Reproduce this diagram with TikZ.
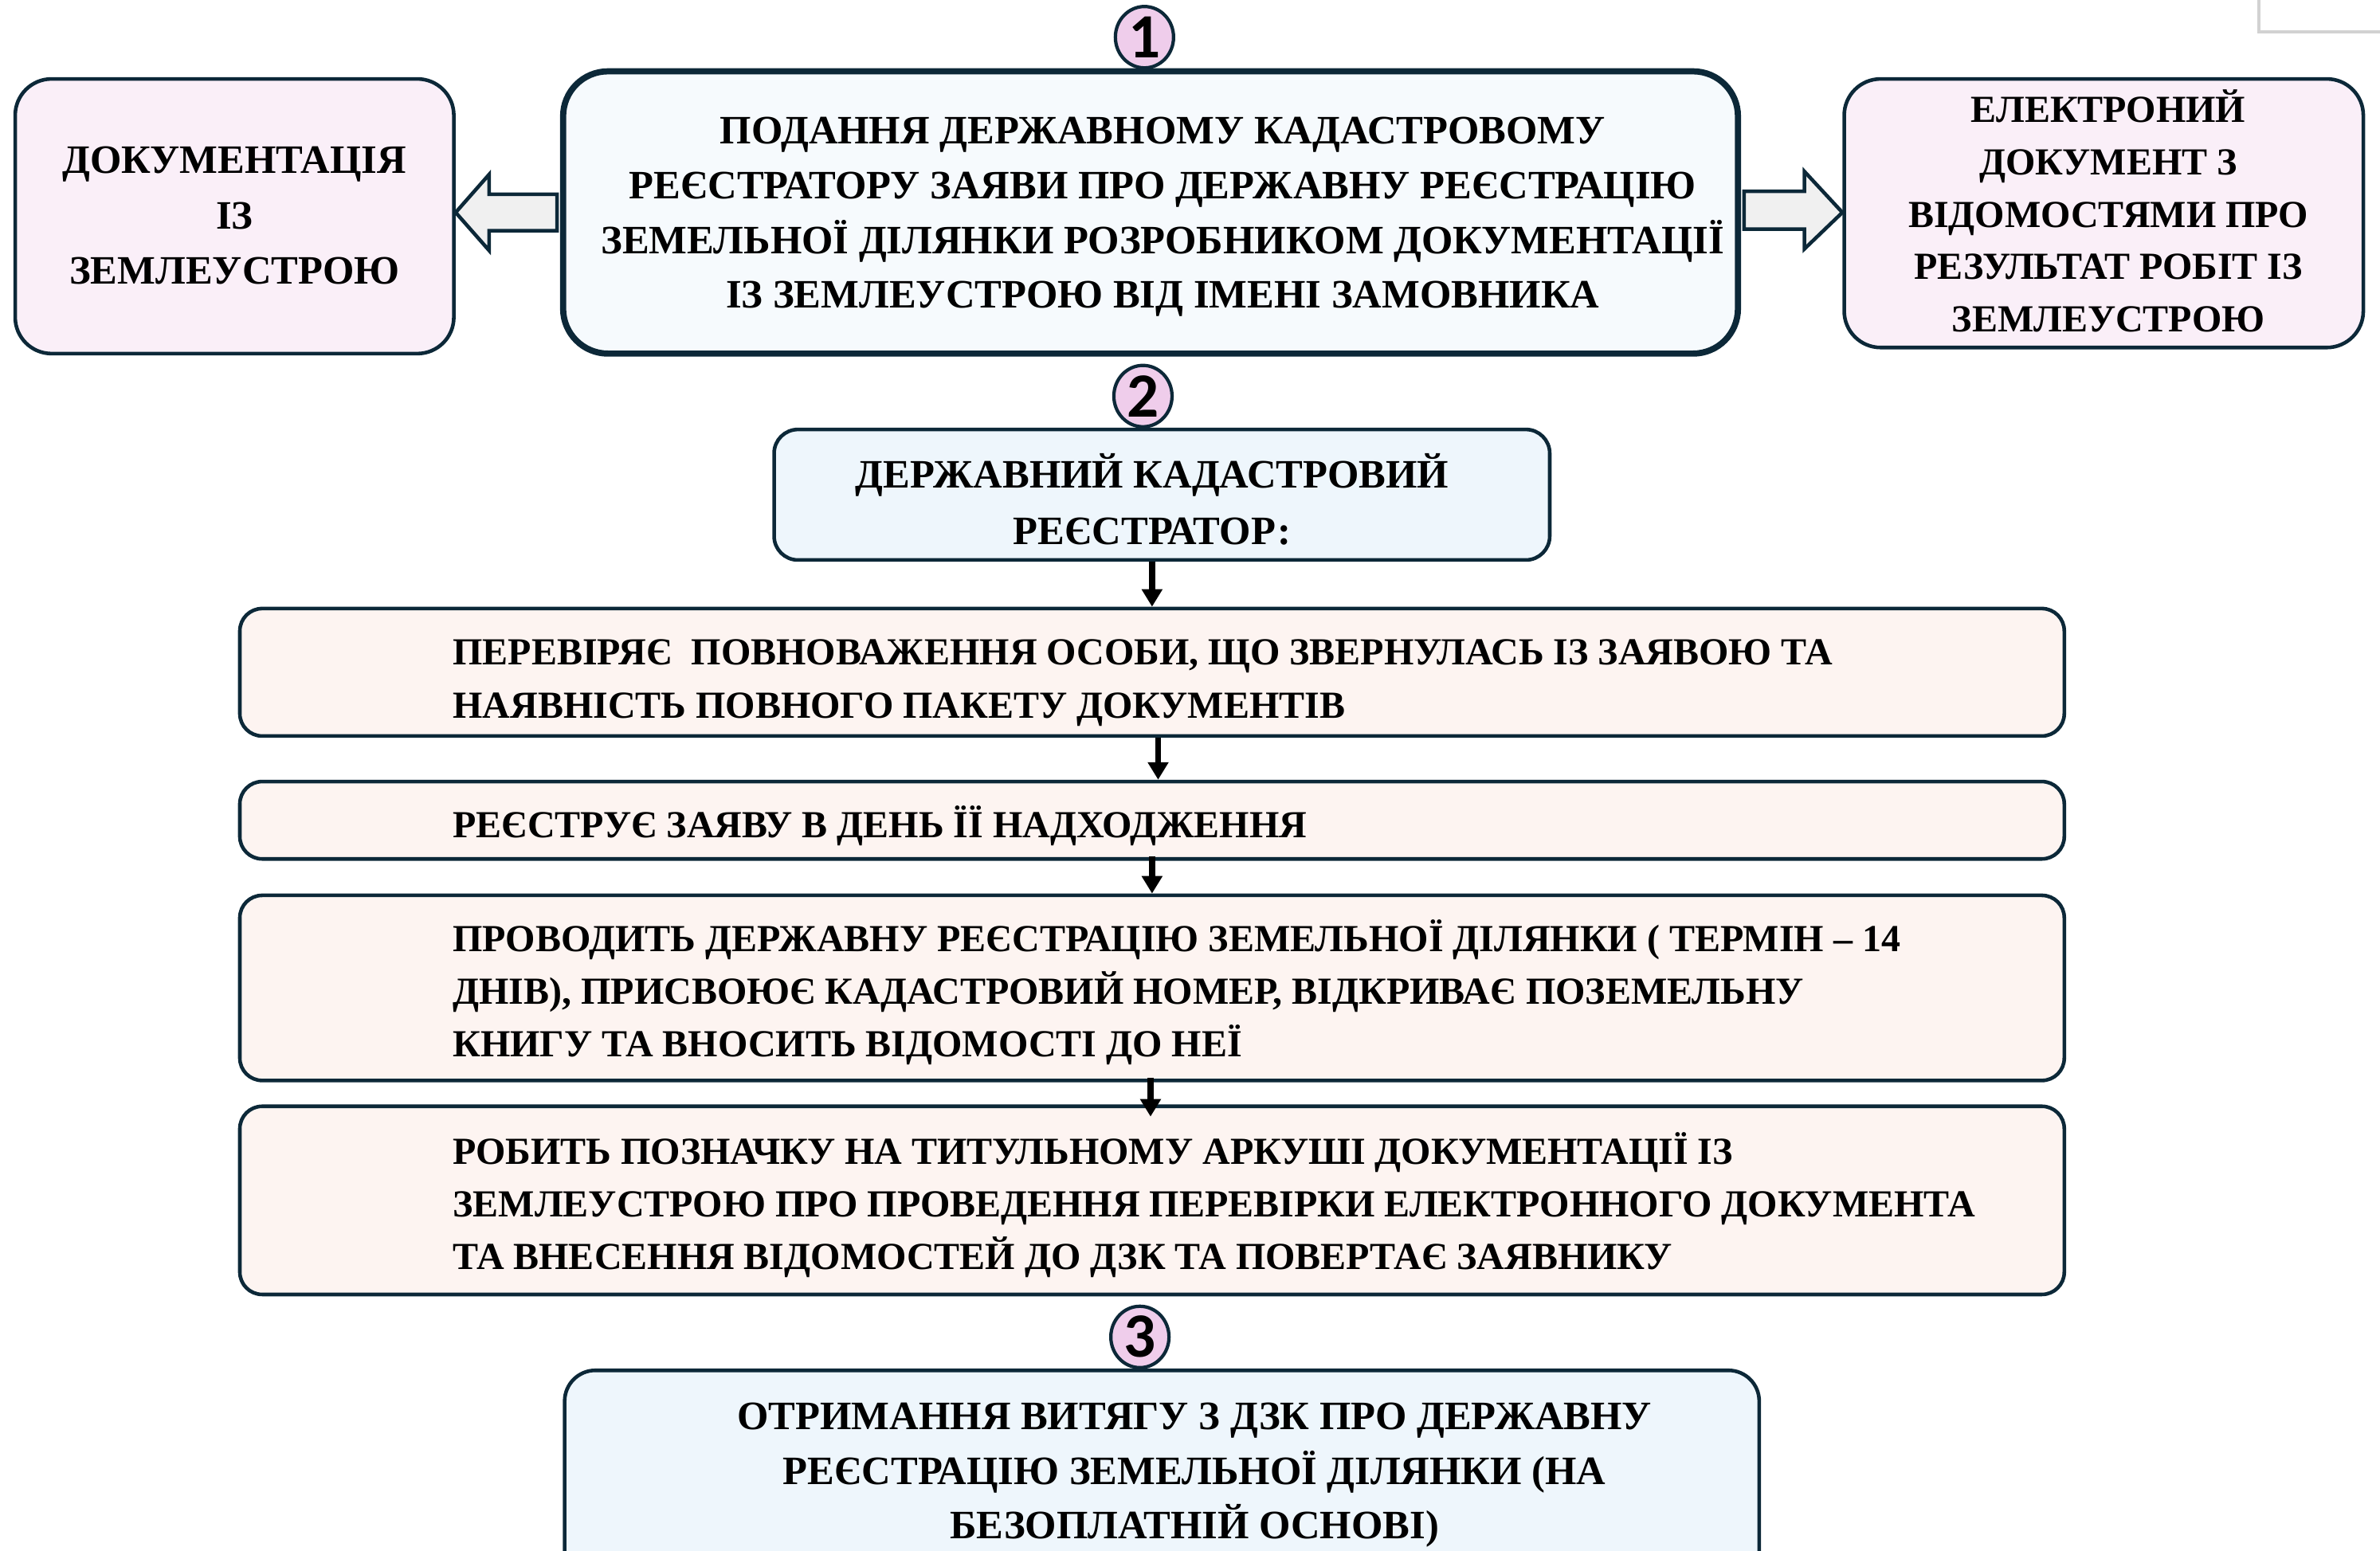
\documentclass[tikz,border=0pt]{standalone}
\usepackage{fontspec}
\setmainfont{Liberation Serif}
\newfontfamily\numfont{Carlito}
\usetikzlibrary{fit,calc,arrows.meta,shapes.geometric}
\definecolor{bordc}{RGB}{12,40,56}
\definecolor{pinkfill}{RGB}{250,239,248}
\definecolor{mainfill}{RGB}{246,250,253}
\definecolor{bluefill}{RGB}{238,246,252}
\definecolor{peachfill}{RGB}{253,244,241}
\definecolor{numpink}{RGB}{239,205,235}
\definecolor{arrgray}{RGB}{240,240,240}
\definecolor{cornergray}{RGB}{210,210,210}
\begin{document}
\begin{tikzpicture}[x=0.01905cm,y=-0.01905cm,
  boxbase/.style={draw=bordc, line width=1.3pt, inner sep=0pt},
  sidebox/.style={boxbase, fill=pinkfill, rounded corners=13pt},
  mainbox/.style={boxbase, fill=mainfill, line width=2.2pt, rounded corners=16pt},
  regbox/.style={boxbase, fill=bluefill, rounded corners=8.5pt},
  stepbox/.style={boxbase, fill=peachfill, rounded corners=8pt},
  resbox/.style={boxbase, fill=bluefill, rounded corners=11pt},
  ctext/.style={inner sep=0pt, align=center, font=\bfseries\fontsize{14.4}{19.5}\selectfont},
  steptext/.style={inner sep=0pt, anchor=west, align=left,
    font=\bfseries\fontsize{13.65}{18.8}\selectfont},
  numc/.style={ellipse, draw=bordc, line width=1.2pt, fill=numpink, minimum width=0.73cm,
    minimum height=0.77cm, inner sep=0pt, font=\numfont\bfseries\fontsize{22.5}{22.5}\selectfont},
  blk/.style={draw=bordc, fill=arrgray, line width=1.3pt, line join=miter},
  varr/.style={line width=2.1pt, -{Triangle[length=0.22cm,width=0.25cm]}}]
\useasboundingbox (0,0) rectangle (1568,1022);
\clip (0,0) rectangle (1568,1022);

% partial grey frame top right
\draw[cornergray, line width=1.2pt] (1488,-5) -- (1488,21) -- (1575,21);

% top row
\node[sidebox, fit={(10,52) (299,233)}] (L) {};
\node[ctext, font=\bfseries\fontsize{14.4}{19.8}\selectfont] (tL) at (154.5,142) {ДОКУМЕНТАЦІЯ\\ІЗ\\ЗЕМЛЕУСТРОЮ};
\node[mainbox, fit={(371,47) (1145,233)}] (M) {};
\node[ctext] (tM) at (766,143) {ПОДАННЯ ДЕРЖАВНОМУ КАДАСТРОВОМУ\\РЕЄСТРАТОРУ ЗАЯВИ ПРО ДЕРЖАВНУ РЕЄСТРАЦІЮ\\ЗЕМЕЛЬНОЇ ДІЛЯНКИ РОЗРОБНИКОМ ДОКУМЕНТАЦІЇ\\ІЗ ЗЕМЛЕУСТРОЮ ВІД ІМЕНІ ЗАМОВНИКА};
\node[sidebox, fit={(1215,52) (1557,229)}] (R) {};
\node[ctext, font=\bfseries\fontsize{13.65}{18.7}\selectfont] (tR) at (1389,139) {ЕЛЕКТРОНИЙ\\ДОКУМЕНТ З\\ВІДОМОСТЯМИ ПРО\\РЕЗУЛЬТАТ РОБІТ ІЗ\\ЗЕМЛЕУСТРОЮ};

\node[numc] (n1) at (754,24.5) {1};

% block arrows
\draw[blk] (L.east |- M.west)
  -- ($(L.east |- M.west)+(22,-25)$) -- ($(L.east |- M.west)+(22,-12)$)
  -- ($(M.west)+(-2,-12)$) -- ($(M.west)+(-2,12)$)
  -- ($(L.east |- M.west)+(22,12)$) -- ($(L.east |- M.west)+(22,25)$) -- cycle;
\draw[blk] (R.west |- M.east)
  -- ($(R.west |- M.east)+(-25,-27)$) -- ($(R.west |- M.east)+(-25,-14)$)
  -- ($(M.east)+(2,-14)$) -- ($(M.east)+(2,11)$)
  -- ($(R.west |- M.east)+(-25,11)$) -- ($(R.west |- M.east)+(-25,24)$) -- cycle;

% registrar
\node[numc] (n2) at (753,261) {2};
\node[regbox, fit={(510,283) (1021,369)}] (B2) {};
\node[ctext, font=\bfseries\fontsize{14.4}{20}\selectfont] (t2) at (759,329) {ДЕРЖАВНИЙ КАДАСТРОВИЙ\\РЕЄСТРАТОР:};

% steps
\node[stepbox, fit={(158,401) (1360,485)}] (B3) {};
\node[steptext] (t3) at (298,450) {ПЕРЕВІРЯЄ \ ПОВНОВАЖЕННЯ ОСОБИ, ЩО ЗВЕРНУЛАСЬ ІЗ ЗАЯВОЮ ТА\\НАЯВНІСТЬ ПОВНОГО ПАКЕТУ ДОКУМЕНТІВ};

\node[stepbox, fit={(158,515) (1360,566)}] (B4) {};
\node[steptext] (t4) at (298,544) {РЕЄСТРУЄ ЗАЯВУ В ДЕНЬ ЇЇ НАДХОДЖЕННЯ};

\node[stepbox, fit={(158,590) (1360,712)}] (B5) {};
\node[steptext] (t5) at (298,654) {ПРОВОДИТЬ ДЕРЖАВНУ РЕЄСТРАЦІЮ ЗЕМЕЛЬНОЇ ДІЛЯНКИ ( ТЕРМІН – 14\\ДНІВ), ПРИСВОЮЄ КАДАСТРОВИЙ НОМЕР, ВІДКРИВАЄ ПОЗЕМЕЛЬНУ\\КНИГУ ТА ВНОСИТЬ ВІДОМОСТІ ДО НЕЇ};

\node[stepbox, fit={(158,729) (1360,853)}] (B6) {};
\node[steptext] (t6) at (298,794) {РОБИТЬ ПОЗНАЧКУ НА ТИТУЛЬНОМУ АРКУШІ ДОКУМЕНТАЦІЇ ІЗ\\ЗЕМЛЕУСТРОЮ ПРО ПРОВЕДЕННЯ ПЕРЕВІРКИ ЕЛЕКТРОННОГО ДОКУМЕНТА\\ТА ВНЕСЕННЯ ВІДОМОСТЕЙ ДО ДЗК ТА ПОВЕРТАЄ ЗАЯВНИКУ};

% result
\node[numc] (n3) at (751,881) {3};
\node[resbox, fit={(372,903) (1159,1045)}] (B7) {};
\node[ctext] (t7) at (787,972) {ОТРИМАННЯ ВИТЯГУ З ДЗК ПРО ДЕРЖАВНУ\\РЕЄСТРАЦІЮ ЗЕМЕЛЬНОЇ ДІЛЯНКИ (НА\\БЕЗОПЛАТНІЙ ОСНОВІ)};

% vertical arrows
\draw[varr] (B2.south -| B3.north) -- (B3.north);
\draw[varr] ($(B3.south)+(4,0)$) -- ($(B4.north)+(4,0)$);
\draw[varr] ($(B4.south)+(0,-3)$) -- (B5.north);
\draw[varr] ($(B5.south)+(-1,-3)$) -- ($(B6.north)+(-1,8)$);
\end{tikzpicture}
\end{document}
